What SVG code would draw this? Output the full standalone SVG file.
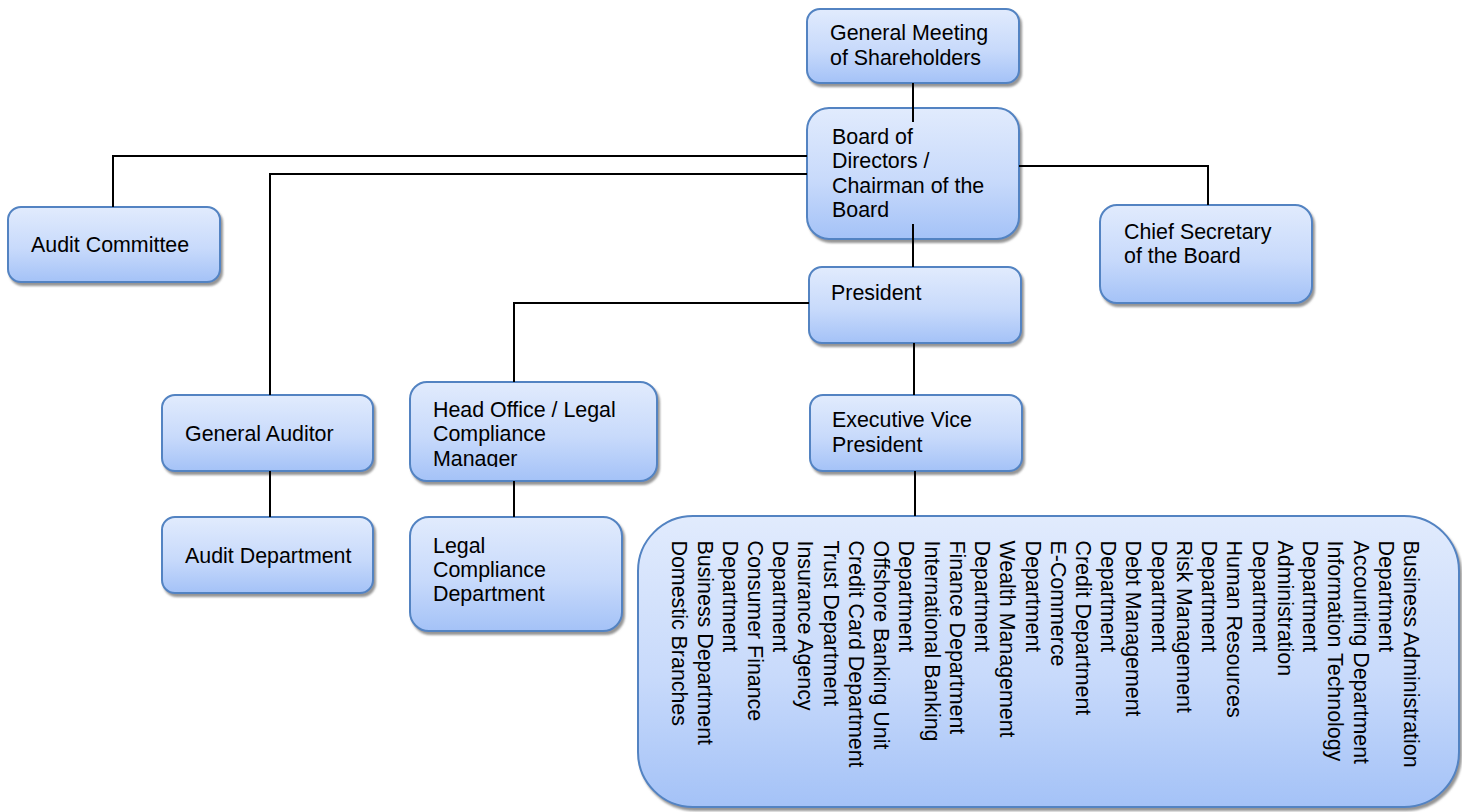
<svg xmlns="http://www.w3.org/2000/svg" width="1462" height="812" viewBox="0 0 1462 812">
<style>
.box{fill:url(#g);stroke:#5283c2;stroke-width:2;filter:url(#sh)}
.t{font-family:"Liberation Sans",Arial,sans-serif;font-size:21.4px;fill:#000}
.c{fill:none;stroke:#000;stroke-width:2}
</style>
<defs>
<linearGradient id="g" x1="0" y1="0" x2="0" y2="1">
<stop offset="0" stop-color="#e1ebfd"/>
<stop offset="0.55" stop-color="#c8dafb"/>
<stop offset="1" stop-color="#a4c2f7"/>
</linearGradient>
<filter id="sh" x="-5%" y="-5%" width="115%" height="120%">
<feDropShadow dx="2" dy="3" stdDeviation="1" flood-color="#7a7a7a" flood-opacity="0.8"/>
</filter>
<clipPath id="hoclip"><rect x="410" y="382" width="247" height="85"/></clipPath>
</defs>
<rect width="1462" height="812" fill="#fff"/>

<g id="gm">
<rect class="box" x="807" y="9" width="212" height="74" rx="13"/>
<text class="t" x="830" y="40">General Meeting</text>
<text class="t" x="830" y="65">of Shareholders</text>
</g>
<g id="board">
<rect class="box" x="807" y="108" width="212" height="131" rx="22"/>
<text class="t" x="832" y="144">Board of</text>
<text class="t" x="832" y="168">Directors /</text>
<text class="t" x="832" y="193">Chairman of the</text>
<text class="t" x="832" y="217">Board</text>
</g>
<g id="chief">
<rect class="box" x="1100" y="205" width="212" height="98" rx="17"/>
<text class="t" x="1124" y="239">Chief Secretary</text>
<text class="t" x="1124" y="263">of the Board</text>
</g>
<g id="auditcommittee">
<rect class="box" x="8" y="207" width="212" height="75" rx="13"/>
<text class="t" x="31" y="252">Audit Committee</text>
</g>
<g id="president">
<rect class="box" x="809" y="267" width="212" height="76" rx="13"/>
<text class="t" x="831" y="300">President</text>
</g>
<g id="evp">
<rect class="box" x="810" y="395" width="212" height="76" rx="13"/>
<text class="t" x="832" y="427">Executive Vice</text>
<text class="t" x="832" y="452">President</text>
</g>
<g id="generalauditor">
<rect class="box" x="162" y="395" width="211" height="76" rx="13"/>
<text class="t" x="185" y="441">General Auditor</text>
</g>
<g id="auditdept">
<rect class="box" x="162" y="517" width="211" height="76" rx="13"/>
<text class="t" x="185" y="563">Audit Department</text>
</g>
<g id="headoffice">
<rect class="box" x="410" y="382" width="247" height="99" rx="17"/>
<g clip-path="url(#hoclip)">
<text class="t" x="433" y="417">Head Office / Legal</text>
<text class="t" x="433" y="441">Compliance</text>
<text class="t" x="433" y="466">Manager</text>
</g>
</g>
<g id="legal">
<rect class="box" x="410" y="517" width="212" height="114" rx="19"/>
<text class="t" x="433" y="553">Legal</text>
<text class="t" x="433" y="577">Compliance</text>
<text class="t" x="433" y="601">Department</text>
</g>
<g id="departments">
<rect class="box" x="638" y="516" width="821" height="291" rx="55"/>
<text class="t" transform="translate(1404,540.5) rotate(90)">
<tspan x="0" y="0">Business Administration</tspan>
<tspan x="0" dy="25.23">Department</tspan>
<tspan x="0" dy="25.23">Accounting Department</tspan>
<tspan x="0" dy="25.23">Information Technology</tspan>
<tspan x="0" dy="25.23">Department</tspan>
<tspan x="0" dy="25.23">Administration</tspan>
<tspan x="0" dy="25.23">Department</tspan>
<tspan x="0" dy="25.23">Human Resources</tspan>
<tspan x="0" dy="25.23">Department</tspan>
<tspan x="0" dy="25.23">Risk Management</tspan>
<tspan x="0" dy="25.23">Department</tspan>
<tspan x="0" dy="25.23">Debt Management</tspan>
<tspan x="0" dy="25.23">Department</tspan>
<tspan x="0" dy="25.23">Credit Department</tspan>
<tspan x="0" dy="25.23">E-Commerce</tspan>
<tspan x="0" dy="25.23">Department</tspan>
<tspan x="0" dy="25.23">Wealth Management</tspan>
<tspan x="0" dy="25.23">Department</tspan>
<tspan x="0" dy="25.23">Finance Department</tspan>
<tspan x="0" dy="25.23">International Banking</tspan>
<tspan x="0" dy="25.23">Department</tspan>
<tspan x="0" dy="25.23">Offshore Banking Unit</tspan>
<tspan x="0" dy="25.23">Credit Card Department</tspan>
<tspan x="0" dy="25.23">Trust Department</tspan>
<tspan x="0" dy="25.23">Insurance Agency</tspan>
<tspan x="0" dy="25.23">Department</tspan>
<tspan x="0" dy="25.23">Consumer Finance</tspan>
<tspan x="0" dy="25.23">Department</tspan>
<tspan x="0" dy="25.23">Business Department</tspan>
<tspan x="0" dy="25.23">Domestic Branches</tspan>
</text>
</g>

<g id="connectors">
<path class="c" d="M913,83 V122"/>
<path class="c" d="M913,224 V267"/>
<path class="c" d="M807,156 H113 V207"/>
<path class="c" d="M807,174 H270 V395"/>
<path class="c" d="M1019,166 H1208 V205"/>
<path class="c" d="M809,303 H514 V382"/>
<path class="c" d="M914,343 V395"/>
<path class="c" d="M270,471 V517"/>
<path class="c" d="M514,481 V517"/>
<path class="c" d="M915,471 V516"/>
</g>
</svg>
